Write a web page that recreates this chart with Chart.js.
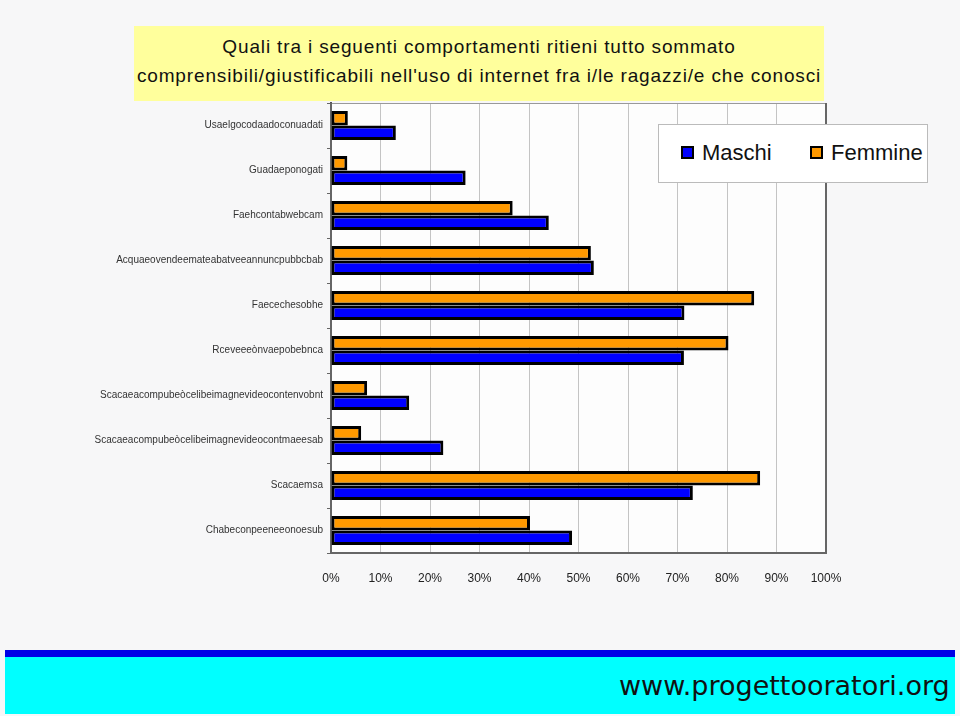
<!DOCTYPE html>
<html>
<head>
<meta charset="utf-8">
<script src="https://cdn.jsdelivr.net/npm/chart.js@4.4.1/dist/chart.umd.min.js"></script>
<style>
  body { margin: 0; background: #f7f7f8; width: 960px; height: 716px; overflow: hidden; position: relative; font-family: "Liberation Sans", Arial, sans-serif; }
  #chartCanvas { position: absolute; left: 0; top: 0; }
  #titleBox { position: absolute; left: 134px; top: 26px; width: 690px; height: 75px; background: #ffff9c; color: #111; font-size: 19px; letter-spacing: 0.85px; text-align: center; line-height: 29px; padding-top: 6px; box-sizing: border-box; }
  #legendBox { position: absolute; left: 658px; top: 124px; width: 270px; height: 59px; background: #fff; border: 1px solid #bbb; box-sizing: border-box; font-size: 22px; color: #111; }
  .legItem { position: absolute; top: 15px; white-space: nowrap; }
  .legSwatch { display: inline-block; width: 9px; height: 9px; border: 2px solid #000; margin-right: 8px; vertical-align: 1px; }
  #banner { position: absolute; left: 5px; top: 650px; width: 950px; height: 64px; background: #00ffff; border-top: 7px solid #0000e6; box-sizing: border-box; }
  #banner span { position: absolute; left: 614px; top: 13px; font-family: "DejaVu Sans", sans-serif; font-size: 27px; color: #111; }
</style>
</head>
<body>
<canvas id="chartCanvas" width="960" height="716"></canvas>
<div id="titleBox">Quali tra i seguenti comportamenti ritieni tutto sommato<br>comprensibili/giustificabili nell'uso di internet fra i/le ragazzi/e che conosci</div>
<div id="legendBox"></div>
<div id="banner"><span>www.progettooratori.org</span></div>
<script>
// Category labels (as printed, overlapping text in the original)
const categories = [
  "Usaelgocodaadoconuadati",
  "Guadaeponogati",
  "Faehcontabwebcam",
  "Acquaeovendeemateabatveeannuncpubbcbab",
  "Faecechesobhe",
  "Rceveeeònvaepobebnca",
  "Scacaeacompubeòcelibeimagnevideocontenvobnt",
  "Scacaeacompubeòcelibeimagnevideocontmaeesab",
  "Scacaemsa",
  "Chabeconpeeneeonoesub",
];

// percentages
const maschi = [13.1, 27.2, 44.0, 53.1, 71.4, 71.3, 15.8, 22.7, 73.1, 48.7];
const femmine = [3.4, 3.3, 36.7, 52.5, 85.5, 80.3, 7.3, 6.1, 86.7, 40.2];

const xTicks = [0, 10, 20, 30, 40, 50, 60, 70, 80, 90, 100];

const BLUE = "#0000ff";
const ORANGE = "#ff9900";

// plot background + frame
const framePlugin = {
  id: "framePlugin",
  beforeDraw(chart) {
    const { ctx, chartArea: a } = chart;
    ctx.save();
    ctx.fillStyle = "#fdfdfd";
    ctx.fillRect(a.left, a.top, a.right - a.left, a.bottom - a.top);
    ctx.restore();
  },
  beforeDatasetsDraw(chart) {
    const { ctx, chartArea: a } = chart;
    ctx.save();
    ctx.strokeStyle = "#999";
    ctx.lineWidth = 1;
    ctx.beginPath();
    ctx.moveTo(a.left, a.top + 0.5);
    ctx.lineTo(a.right, a.top + 0.5);
    ctx.stroke();
    ctx.strokeStyle = "#666";
    ctx.lineWidth = 2;
    ctx.beginPath();
    ctx.moveTo(a.right, a.top);
    ctx.lineTo(a.right, a.bottom);
    ctx.lineTo(a.left, a.bottom);
    ctx.lineTo(a.left, a.top);
    ctx.stroke();
    ctx.restore();
  },
};

const ctx = document.getElementById("chartCanvas").getContext("2d");
const chart = new Chart(ctx, {
  type: "bar",
  data: {
    labels: categories,
    datasets: [
      {
        label: "Femmine",
        data: femmine,
        backgroundColor: ORANGE,
        borderColor: "#000",
        borderWidth: 3,
        borderSkipped: false,
      },
      {
        label: "Maschi",
        data: maschi,
        backgroundColor: BLUE,
        borderColor: "#000",
        borderWidth: 3,
        borderSkipped: false,
      },
    ],
  },
  options: {
    indexAxis: "y",
    responsive: false,
    animation: false,
    devicePixelRatio: 1,
    categoryPercentage: 0.64,
    barPercentage: 1.0,
    layout: { padding: { top: 103, right: 134, bottom: 0, left: 0 } },
    plugins: {
      legend: { display: false },
      title: { display: false },
      tooltip: { enabled: false },
    },
    scales: {
      x: {
        min: 0,
        max: 100,
        afterBuildTicks: (scale) => {
          scale.ticks = xTicks.map((v) => ({ value: v }));
        },
        afterFit: (scale) => {
          scale.height = 163;
        },
        ticks: {
          callback: (v) => v + "%",
          color: "#222",
          font: { family: "'Liberation Sans', Arial, sans-serif", size: 12 },
          padding: 18,
          maxRotation: 0,
        },
        grid: { color: "#c4c4c4", lineWidth: 1, drawTicks: false },
        border: { display: false },
      },
      y: {
        afterFit: (scale) => {
          scale.width = 331;
        },
        ticks: {
          color: "#333",
          font: { family: "'Liberation Sans', Arial, sans-serif", size: 10 },
          padding: 4,
        },
        grid: { drawOnChartArea: false, drawTicks: true, tickLength: 4, color: "#666" },
        border: { display: true, color: "#555", width: 2 },
      },
    },
  },
  plugins: [framePlugin],
});

// legend box built from the datasets (Maschi first, like the original)
const legendBox = document.getElementById("legendBox");
const legendLeft = [22, 151];
chart.data.datasets.slice().reverse().forEach((ds, i) => {
  const item = document.createElement("div");
  item.className = "legItem";
  item.style.left = legendLeft[i] + "px";
  item.innerHTML = '<span class="legSwatch" style="background:' + ds.backgroundColor + '"></span>' + ds.label;
  legendBox.appendChild(item);
});
</script>
</body>
</html>
